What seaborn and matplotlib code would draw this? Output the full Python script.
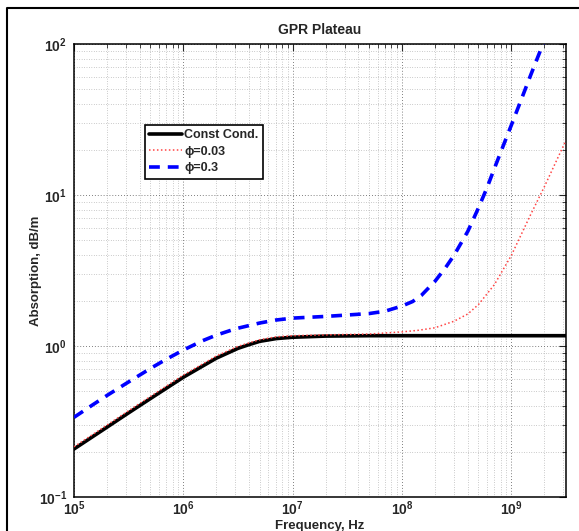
import numpy as np
import pandas as pd
import matplotlib
matplotlib.use("Agg")
import matplotlib.pyplot as plt
from matplotlib.lines import Line2D
from matplotlib.ticker import LogLocator, FuncFormatter, NullFormatter
import seaborn as sns

# ---- data ----
freq_const = [1e5, 1.78e5, 3.16e5, 5.62e5, 1e6, 1.5e6, 2e6, 3.16e6, 4e6, 5e6, 7.08e6,
              1e7, 2e7, 5e7, 1e8, 1e9, 3.16e9]
abs_const = [0.208, 0.274, 0.361, 0.474, 0.621, 0.736, 0.830, 0.965, 1.022, 1.074, 1.12,
             1.143, 1.163, 1.17, 1.17, 1.17, 1.17]

freq_p003 = [1e5, 1.78e5, 3.16e5, 5.62e5, 1e6, 1.5e6, 2e6, 3.16e6, 4e6, 5e6, 7.08e6,
             1e7, 2e7, 5e7, 1e8, 1.4e8, 2e8, 3e8, 4e8, 5e8, 7e8, 1e9, 1.5e9, 2e9, 2.5e9, 3.16e9]
abs_p003 = [0.215, 0.283, 0.373, 0.490, 0.642, 0.760, 0.858, 0.995, 1.05, 1.10, 1.15,
            1.17, 1.185, 1.20, 1.24, 1.27, 1.32, 1.46, 1.63, 1.88, 2.55, 3.98, 7.4, 11.3, 16.0, 23.0]

freq_p03 = [1e5, 1.5e5, 2e5, 3e5, 5e5, 7e5, 1e6, 1.5e6, 2e6, 3e6, 5e6, 7e6, 1e7, 2e7,
            3e7, 5e7, 7e7, 1e8, 1.25e8, 1.5e8, 2e8, 2.5e8, 3e8, 4e8, 5e8, 6e8, 7e8, 8.5e8,
            1e9, 1.25e9, 1.5e9, 2e9, 3e9]
abs_p03 = [0.337, 0.41, 0.47, 0.565, 0.71, 0.818, 0.94, 1.084, 1.18, 1.30, 1.42, 1.485,
           1.53, 1.57, 1.60, 1.64, 1.70, 1.84, 1.97, 2.16, 2.68, 3.3, 4.0, 5.75, 8.2, 11.2,
           15.0, 21.5, 29.0, 44.0, 62.0, 105.0, 230.0]

labels = ["Const Cond.", "\u03d5=0.03", "\u03d5=0.3"]
title = "GPR Plateau"
xlabel = "Frequency, Hz"
ylabel = "Absorption, dB/m"

sns.set_style("white")
plt.rcParams["font.family"] = ["Liberation Sans", "DejaVu Sans"]
plt.rcParams["font.weight"] = "bold"
plt.rcParams["mathtext.fontset"] = "custom"
plt.rcParams["mathtext.rm"] = "Liberation Sans"
plt.rcParams["mathtext.bf"] = "Liberation Sans:bold"

W, H = 579, 531
fig = plt.figure(figsize=(W / 100, H / 100), dpi=100)
ax = fig.add_axes([74 / W, 1 - 497 / H, (566 - 74) / W, (497 - 44) / H])

df1 = pd.DataFrame({"f": freq_const, "a": abs_const})
df2 = pd.DataFrame({"f": freq_p003, "a": abs_p003})
df3 = pd.DataFrame({"f": freq_p03, "a": abs_p03})

sns.lineplot(data=df1, x="f", y="a", ax=ax, color="black", lw=2.6, label=labels[0], zorder=3)
sns.lineplot(data=df2, x="f", y="a", ax=ax, color="#ff4444", lw=1.1, ls=(0, (1, 1.6)),
             label=labels[1], zorder=4)
sns.lineplot(data=df3, x="f", y="a", ax=ax, color="#0000ff", lw=2.6, ls=(0, (3, 2.2)),
             label=labels[2], zorder=5)

ax.set_xscale("log")
ax.set_yscale("log")
ax.set_xlim(1e5, 10 ** 9.5)
ax.set_ylim(0.1, 100)

ax.xaxis.set_major_locator(LogLocator(base=10, numticks=20))
ax.yaxis.set_major_locator(LogLocator(base=10, numticks=20))
ax.xaxis.set_minor_locator(LogLocator(base=10, subs=np.arange(2, 10), numticks=50))
ax.yaxis.set_minor_locator(LogLocator(base=10, subs=np.arange(2, 10), numticks=50))
fmt = FuncFormatter(lambda v, p: r"$\mathbf{10^{%d}}$" % int(round(np.log10(v))))
ax.xaxis.set_major_formatter(fmt)
ax.yaxis.set_major_formatter(fmt)
ax.xaxis.set_minor_formatter(NullFormatter())
ax.yaxis.set_minor_formatter(NullFormatter())

ax.grid(True, which="major", color="#555555", ls=(0, (1, 2.5)), lw=0.6)
ax.grid(True, which="minor", color="#9a9a9a", ls=(0, (1, 2.5)), lw=0.5)
ax.tick_params(which="both", direction="in", top=True, right=True, labelsize=10)
ax.tick_params(axis="x", which="both", pad=2)
ax.tick_params(axis="y", which="both", pad=5)
ax.tick_params(which="major", length=5, width=0.8)
ax.tick_params(which="minor", length=3, width=0.6)
for s in ax.spines.values():
    s.set_color("black")
    s.set_linewidth(1.1)

ax.set_title(title, fontsize=10, fontweight="bold", pad=7.5)
ax.set_xlabel(xlabel, fontsize=9.5, fontweight="bold")
ax.set_ylabel(ylabel, fontsize=9.5, fontweight="bold")
ax.xaxis.set_label_coords(0.5, (497 - 520) / 453)
ax.yaxis.set_label_coords((42 - 74) / 492, 0.5)

leg = ax.legend(loc="upper left", bbox_to_anchor=((145 - 74) / 492, (497 - 125) / 453),
                frameon=True, fancybox=False, edgecolor="black", framealpha=1,
                prop={"weight": "bold", "size": 9}, handlelength=2.6, handletextpad=0.2,
                borderpad=0.35, labelspacing=0.35, borderaxespad=0)
leg.get_frame().set_linewidth(1.2)

# outer frame (partially visible)
fig.add_artist(Line2D([7 / W, 7 / W, 1.0], [0.0, 1 - 8 / H, 1 - 8 / H],
                      transform=fig.transFigure, color="black", lw=1.5))

fig.savefig("out.png", dpi=100)
